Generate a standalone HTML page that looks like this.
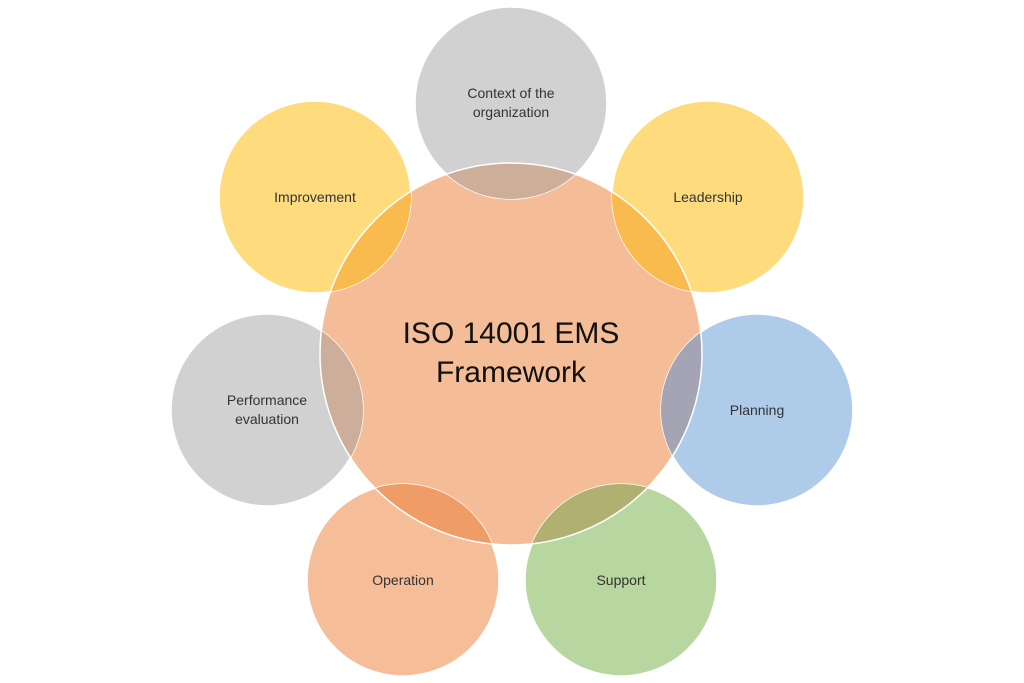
<!DOCTYPE html>
<html><head><style>body{margin:0;background:#fff}svg{display:block}</style></head><body>
<svg width="1024" height="683" viewBox="0 0 1024 683" xmlns="http://www.w3.org/2000/svg">
<defs><clipPath id="c"><circle cx="511" cy="354" r="191"/></clipPath></defs>
<circle cx="511" cy="354" r="191" fill="#f5bd97"/>
<g stroke="#fff" stroke-width="1.5">
<circle cx="511" cy="103" r="96" fill="#d1d1d1"/>
<circle cx="708" cy="197" r="96" fill="#fedc7e"/>
<circle cx="757" cy="410" r="96" fill="#aecbea"/>
<circle cx="621" cy="580" r="96" fill="#b7d6a0"/>
<circle cx="403" cy="580" r="96" fill="#f5bd98"/>
<circle cx="267" cy="410" r="96" fill="#d1d1d1"/>
<circle cx="315" cy="197" r="96" fill="#fedc7e"/>
</g>
<g clip-path="url(#c)">
<circle cx="511" cy="103" r="96" fill="#cdae9b"/>
<circle cx="708" cy="197" r="96" fill="#f9ba4e"/>
<circle cx="757" cy="410" r="96" fill="#a4a4b4"/>
<circle cx="621" cy="580" r="96" fill="#b0b170"/>
<circle cx="403" cy="580" r="96" fill="#ef9c66"/>
<circle cx="267" cy="410" r="96" fill="#cdae9b"/>
<circle cx="315" cy="197" r="96" fill="#f9ba4e"/>
</g>
<circle cx="511" cy="354" r="191" fill="none" stroke="#fff" stroke-width="1.5"/>
<g font-family="Liberation Sans, sans-serif" font-size="14" fill="#333" text-anchor="middle">
<text x="511" y="98">Context of the</text><text x="511" y="117">organization</text>
<text x="708" y="202">Leadership</text>
<text x="757" y="415">Planning</text>
<text x="621" y="585">Support</text>
<text x="403" y="585">Operation</text>
<text x="267" y="405">Performance</text><text x="267" y="424">evaluation</text>
<text x="315" y="202">Improvement</text>
</g>
<g font-family="Liberation Sans, sans-serif" font-size="30" fill="#111" text-anchor="middle">
<text x="511" y="343">ISO 14001 EMS</text><text x="511" y="382">Framework</text>
</g>
</svg>
</body></html>
